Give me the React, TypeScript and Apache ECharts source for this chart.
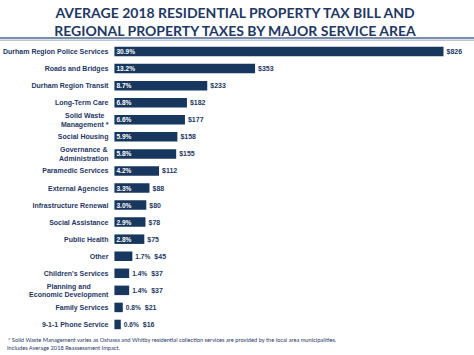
import React, { useEffect, useRef } from "react";
import * as echarts from "echarts";

const categories = [
  "Durham Region Police Services",
  "Roads and Bridges",
  "Durham Region Transit",
  "Long-Term Care",
  "Solid Waste\nManagement *",
  "Social Housing",
  "Governance &\nAdministration",
  "Paramedic Services",
  "External Agencies",
  "Infrastructure Renewal",
  "Social Assistance",
  "Public Health",
  "Other",
  "Children's Services",
  "Planning and\nEconomic Development",
  "Family Services",
  "9-1-1 Phone Service",
];
const percentShares = [30.9, 13.2, 8.7, 6.8, 6.6, 5.9, 5.8, 4.2, 3.3, 3.0, 2.9, 2.8, 1.7, 1.4, 1.4, 0.8, 0.6];
const dollarValues = [826, 353, 233, 182, 177, 158, 155, 112, 88, 80, 78, 75, 45, 37, 37, 21, 16];
const insideThreshold = 2.5;

const titleLines = [
  "AVERAGE 2018 RESIDENTIAL PROPERTY TAX BILL AND",
  "REGIONAL PROPERTY TAXES BY MAJOR SERVICE AREA",
];
const footnotes = [
  "* Solid Waste Management varies as Oshawa and Whitby residential collection services are provided by the local area municipalities.",
  "Includes Average 2018 Reassessment Impact.",
];

const NAVY = "#1F3864";
const BAR = "#17375E";
const FONT = "Liberation Sans, Arial, sans-serif";

export default function App() {
  const ref = useRef<HTMLDivElement>(null);
  useEffect(() => {
    if (!ref.current) return;
    const chart = echarts.init(ref.current, null, { renderer: "svg" });
    const fmtPct = (v: number) => v.toFixed(1) + "%";
    chart.setOption({
      animation: false,
      backgroundColor: "#ffffff",
      grid: { left: 113, top: 43, width: 360, height: 290, containLabel: false },
      xAxis: { type: "value", min: 0, max: 900, show: false },
      yAxis: {
        type: "category",
        inverse: true,
        data: categories,
        axisLine: { show: false },
        axisTick: { show: false },
        splitLine: { show: false },
        axisLabel: {
          margin: 6,
          fontFamily: FONT,
          fontSize: 7,
          fontWeight: "bold",
          color: NAVY,
          lineHeight: 8.5,
          formatter: (v: string) =>
            v.indexOf("\n") >= 0
              ? v.split("\n").map((s) => "{c|" + s + "}").join("\n")
              : v,
          rich: {
            c: {
              align: "center",
              fontFamily: FONT,
              fontSize: 7,
              fontWeight: "bold",
              color: NAVY,
              lineHeight: 8.5,
            },
          },
        },
      },
      series: [
        {
          type: "bar",
          barWidth: 9.5,
          data: dollarValues,
          itemStyle: { color: BAR },
          label: {
            show: true,
            position: "insideLeft",
            distance: 2,
            fontFamily: FONT,
            fontSize: 6.6,
            fontWeight: "bold",
            color: "#ffffff",
            formatter: (p: any) =>
              percentShares[p.dataIndex] >= insideThreshold ? fmtPct(percentShares[p.dataIndex]) : "",
          },
        },
        {
          type: "bar",
          barWidth: 9.5,
          barGap: "-100%",
          silent: true,
          data: dollarValues,
          itemStyle: { color: "transparent" },
          label: {
            show: true,
            position: "right",
            distance: 3,
            fontFamily: FONT,
            fontSize: 7,
            fontWeight: "bold",
            color: NAVY,
            formatter: (p: any) => {
              const i = p.dataIndex;
              const d = "{d|$" + dollarValues[i] + "}";
              return percentShares[i] >= insideThreshold ? d : "{p|" + fmtPct(percentShares[i]) + "}" + d;
            },
            rich: {
              p: {
                fontFamily: FONT,
                fontSize: 6.6,
                fontWeight: "bold",
                color: NAVY,
                padding: [0, 4, 0, 0],
              },
              d: {
                fontFamily: FONT,
                fontSize: 7,
                fontWeight: "bold",
                color: NAVY,
              },
            },
          },
        },
      ],
      graphic: [
        {
          type: "text",
          x: 235,
          y: 12,
          style: {
            text: titleLines[0],
            fill: NAVY,
            font: "bold 14px Lato, 'Open Sans', sans-serif",
            textAlign: "center",
            textVerticalAlign: "middle",
          },
        },
        {
          type: "text",
          x: 235,
          y: 30,
          style: {
            text: titleLines[1],
            fill: NAVY,
            font: "bold 14px Lato, 'Open Sans', sans-serif",
            textAlign: "center",
            textVerticalAlign: "middle",
          },
        },
        {
          type: "line",
          shape: { x1: 0, y1: 38, x2: 474, y2: 38 },
          style: { stroke: "#4F6A8F", lineWidth: 1.6 },
        },
        {
          type: "line",
          shape: { x1: 0, y1: 40.3, x2: 474, y2: 40.3 },
          style: { stroke: "#B8C6D8", lineWidth: 1.4 },
        },
        {
          type: "text",
          x: 8,
          y: 339.5,
          style: {
            text: footnotes[0],
            fill: NAVY,
            font: "5.7px Lato, 'Open Sans', sans-serif",
            textAlign: "left",
            textVerticalAlign: "middle",
          },
        },
        {
          type: "text",
          x: 7,
          y: 347,
          style: {
            text: footnotes[1],
            fill: NAVY,
            font: "5.7px Lato, 'Open Sans', sans-serif",
            textAlign: "left",
            textVerticalAlign: "middle",
          },
        },
      ],
    });
    return () => chart.dispose();
  }, []);
  return <div ref={ref} style={{ width: 474, height: 355, position: "absolute", left: 0, top: 0 }} />;
}
